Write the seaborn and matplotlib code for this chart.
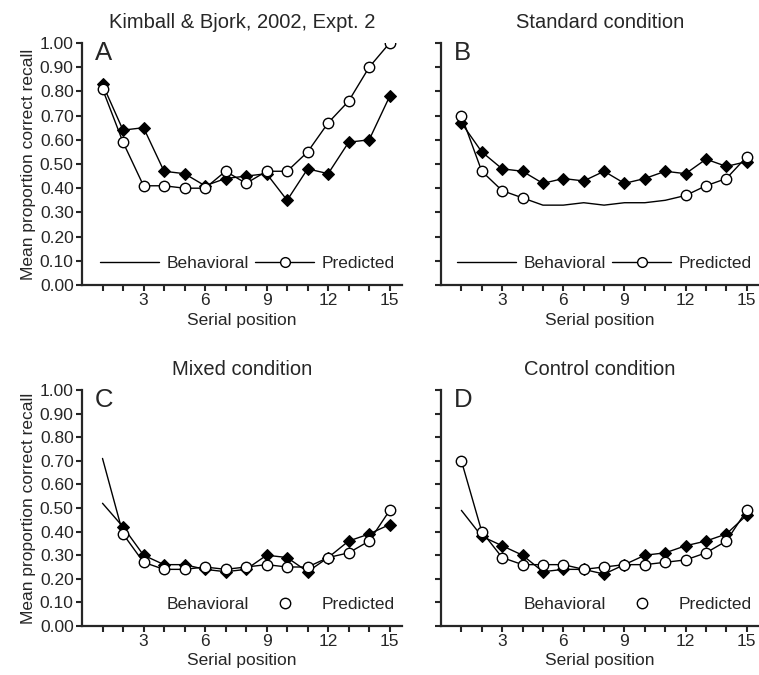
import numpy as np
import pandas as pd
import matplotlib
matplotlib.use("Agg")
import matplotlib.pyplot as plt
from matplotlib.lines import Line2D
import seaborn as sns

# serial positions 1..15
positions = list(range(1, 16))

# panel A - Kimball & Bjork, 2002, Expt. 2
beh_a = [0.83, 0.64, 0.65, 0.47, 0.46, 0.41, 0.44, 0.45, 0.46, 0.35, 0.48, 0.46, 0.59, 0.60, 0.78]
pred_a = [0.81, 0.59, 0.41, 0.41, 0.40, 0.40, 0.47, 0.42, 0.47, 0.47, 0.55, 0.67, 0.76, 0.90, 1.00]

# panel B - standard condition
beh_b = [0.67, 0.55, 0.48, 0.47, 0.42, 0.44, 0.43, 0.47, 0.42, 0.44, 0.47, 0.46, 0.52, 0.49, 0.51]
pred_b = [0.70, 0.47, 0.39, 0.36, 0.33, 0.33, 0.34, 0.33, 0.34, 0.34, 0.35, 0.37, 0.41, 0.44, 0.53]

# panel C - mixed condition
beh_c = [0.52, 0.42, 0.30, 0.26, 0.26, 0.24, 0.23, 0.24, 0.30, 0.29, 0.23, 0.29, 0.36, 0.39, 0.43]
pred_c = [0.71, 0.39, 0.27, 0.24, 0.24, 0.25, 0.24, 0.25, 0.26, 0.25, 0.25, 0.29, 0.31, 0.36, 0.49]

# panel D - control condition
beh_d = [0.49, 0.38, 0.34, 0.30, 0.23, 0.24, 0.24, 0.22, 0.26, 0.30, 0.31, 0.34, 0.36, 0.39, 0.47]
pred_d = [0.70, 0.40, 0.29, 0.26, 0.26, 0.26, 0.24, 0.25, 0.26, 0.26, 0.27, 0.28, 0.31, 0.36, 0.49]

titles = ["Kimball & Bjork, 2002, Expt. 2", "Standard condition",
          "Mixed condition", "Control condition"]
letters = ["A", "B", "C", "D"]
y_ticks = [i / 10 for i in range(11)]

sns.set_style("ticks")
plt.rcParams["font.family"] = ["Liberation Sans", "DejaVu Sans"]

fig = plt.figure(figsize=(7.59, 6.75), dpi=100)
W, H = 759, 675
boxes = [(82, 43, 320, 242), (441, 43, 318, 242),
         (82, 390, 320, 236), (441, 390, 318, 236)]

panels = [(beh_a, pred_a), (beh_b, pred_b), (beh_c, pred_c), (beh_d, pred_d)]
beh_marks = [None, None, list(range(1, 15)), list(range(1, 15))]
pred_marks = [None, [0, 1, 2, 3, 11, 12, 13, 14], list(range(1, 15)), None]

for i, (beh, pred) in enumerate(panels):
    x0, y0, w, h = boxes[i]
    ax = fig.add_axes([x0 / W, 1 - (y0 + h) / H, w / W, h / H])

    sns.lineplot(x=positions, y=beh, ax=ax, color="black", lw=1.0,
                 marker="D", markersize=6.5, markerfacecolor="black",
                 markeredgecolor="black", markevery=beh_marks[i])
    sns.lineplot(x=positions, y=pred, ax=ax, color="black", lw=1.0,
                 marker="o", markersize=7.5, markerfacecolor="white",
                 markeredgecolor="black", markeredgewidth=1.0,
                 markevery=pred_marks[i])

    ax.set_xlim(0, 15.6)
    ax.set_ylim(0, 1.0)
    ax.set_xticks(positions)
    ax.set_xticklabels([str(p) if p % 3 == 0 else "" for p in positions])
    ax.set_yticks(y_ticks)
    sns.despine(ax=ax)
    for s in ["left", "bottom"]:
        ax.spines[s].set_linewidth(1.6)
    ax.tick_params(direction="out", length=4, width=1.5, labelsize=12.5, pad=2)

    if i % 2 == 0:
        ax.set_yticklabels([f"{t:.2f}" for t in y_ticks])
        ax.set_ylabel("Mean proportion correct recall", fontsize=12.5, labelpad=3)
    else:
        ax.set_yticklabels([])
        ax.set_ylabel("")
    ax.set_xlabel("Serial position", fontsize=12.5, labelpad=3)
    ax.set_title(titles[i], fontsize=14.5, pad=11)
    ax.text(0.04, 1.01, letters[i], transform=ax.transAxes, fontsize=18.5,
            va="top", ha="left")

    if i < 2:
        handles = [Line2D([], [], color="black", lw=1.0),
                   Line2D([], [], color="black", lw=1.0, marker="o", markersize=7,
                          markerfacecolor="white", markeredgecolor="black")]
    else:
        handles = [Line2D([], [], color="none", lw=0),
                   Line2D([], [], color="none", lw=0, marker="o", markersize=7.5,
                          markerfacecolor="white", markeredgecolor="black")]
    ax.legend(handles, ["Behavioral", "Predicted"], ncol=2, frameon=False,
              loc="lower right", bbox_to_anchor=(1.0, 0.03), fontsize=12.5,
              handlelength=3.4, handletextpad=0.45, columnspacing=0.35,
              borderaxespad=0.0)

fig.savefig("out.png", dpi=100)
